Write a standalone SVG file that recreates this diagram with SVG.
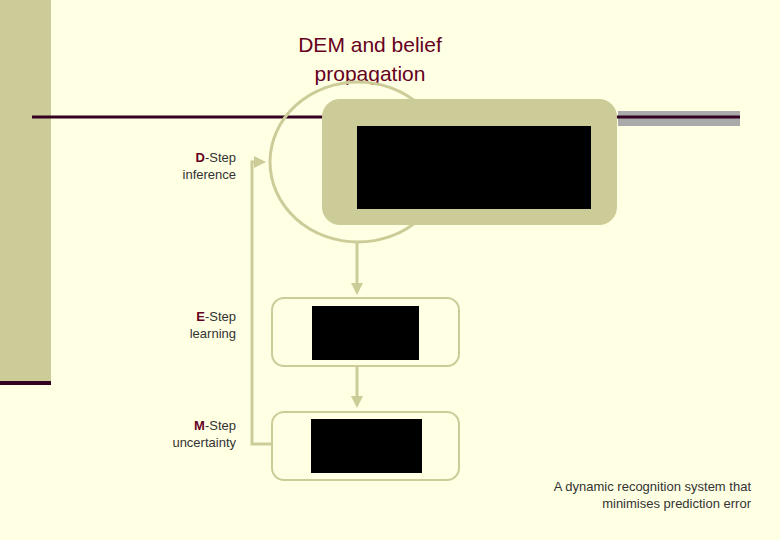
<svg xmlns="http://www.w3.org/2000/svg" width="780" height="540" viewBox="0 0 780 540">
<style>
.lbl{font-family:"Liberation Sans",Arial,sans-serif;font-size:13px;fill:#333;text-anchor:end}
.b{fill:#660022;font-weight:bold}
.con{stroke:#CCCC99;stroke-width:3;fill:none}
.box{stroke:#CCCC99;stroke-width:2;fill:none}
</style>
<defs><marker id="ah" markerWidth="4" markerHeight="4" refX="3" refY="2" orient="auto"><path d="M0,0L4,2L0,4z" fill="#CCCC99"/></marker></defs>
<rect width="780" height="540" fill="#FFFFE3"/>
<rect x="0" y="0" width="51" height="383" fill="#CCCC99"/>
<rect x="0" y="381" width="51" height="4" fill="#330022"/>
<rect x="618" y="111" width="122" height="15" fill="#AAAAAA"/>
<line x1="32" y1="117" x2="740" y2="117" stroke="#330022" stroke-width="3"/>
<text x="370" y="52" font-family="Liberation Sans,Arial,sans-serif" font-size="21" fill="#660022" text-anchor="middle">DEM and belief</text>
<text x="370" y="81" font-family="Liberation Sans,Arial,sans-serif" font-size="21" fill="#660022" text-anchor="middle">propagation</text>
<g id="connectors">
<ellipse class="con" cx="358" cy="162" rx="88" ry="80"/>
<path class="con" d="M357,242V292" marker-end="url(#ah)"/>
<path class="con" d="M357,366V405" marker-end="url(#ah)"/>
<path class="con" d="M272,444H252V162H263" marker-end="url(#ah)"/>
</g>
<g id="dstep">
<rect x="322" y="99" width="295" height="126" rx="18" fill="#CCCC99"/>
<rect x="357" y="126" width="234" height="83" fill="#000"/>
<text class="lbl" x="236" y="162"><tspan class="b">D</tspan>-Step</text>
<text class="lbl" x="236" y="179">inference</text>
</g>
<g id="estep">
<rect class="box" x="272" y="298" width="187" height="68" rx="12"/>
<rect x="312" y="306" width="107" height="54" fill="#000"/>
<text class="lbl" x="236" y="321"><tspan class="b">E</tspan>-Step</text>
<text class="lbl" x="236" y="338">learning</text>
</g>
<g id="mstep">
<rect class="box" x="272" y="412" width="187" height="68" rx="12"/>
<rect x="311" y="419" width="111" height="54" fill="#000"/>
<text class="lbl" x="236" y="430"><tspan class="b">M</tspan>-Step</text>
<text class="lbl" x="236" y="447">uncertainty</text>
</g>
<text class="lbl" x="751" y="491">A dynamic recognition system that</text>
<text class="lbl" x="751" y="508">minimises prediction error</text>
</svg>
